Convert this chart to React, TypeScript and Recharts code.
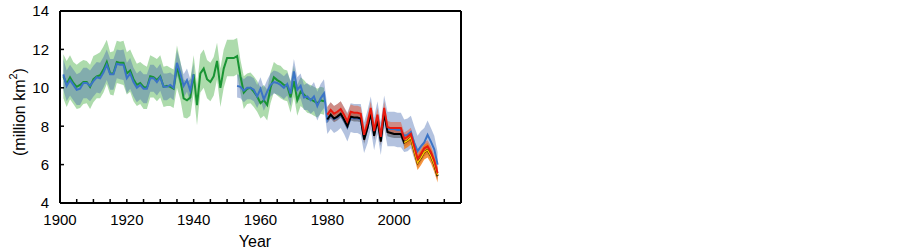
import { ComposedChart, Area, Line, XAxis, YAxis, Label } from 'recharts';

// sea-ice extent, million km2
const greenStart = 1901;
const greenVals = [
  10.6, 10.2, 10.55, 10.25, 10.05, 10.15, 10.3, 10.3, 10.05, 10.45,
  10.6, 10.65, 10.95, 11.35, 10.75, 10.75, 11.35, 11.3, 11.3, 10.75,
  10.9, 10.45, 10.15, 10.25, 10.05, 10.0, 10.6, 10.55, 10.4, 10.6,
  10.05, 10.1, 10.05, 9.95, 11.1, 10.4, 9.45, 9.35, 9.5, 10.7,
  9.1, 10.75, 11.0, 10.45, 10.3, 10.6, 11.4, 10.0, 11.0, 11.55,
  11.55, 11.55, 11.65, 10.6, 9.75, 9.95, 10.0, 9.8, 9.55, 9.2,
  9.35, 9.1, 10.0, 10.55, 10.4, 10.3, 10.15, 10.1, 9.5, 10.35,
  9.35, 9.8, 9.65, 9.45, 9.4, 9.3, 9.2, 9.35, 9.3,
];
const greenErr = [
  1.15, 1.2, 1.15, 1.1, 1.15, 1.2, 1.15, 1.1, 1.15, 1.2,
  1.15, 1.2, 1.2, 1.15, 1.1, 1.15, 1.1, 1.1, 1.15, 1.1,
  1.1, 1.15, 1.1, 1.1, 1.15, 1.1, 1.1, 1.05, 1.1, 1.1,
  1.05, 1.05, 1.0, 1.0, 1.1, 1.0, 1.0, 0.95, 0.95, 1.0,
  1.05, 1.0, 1.0, 1.0, 1.0, 1.0, 0.95, 1.0, 1.0, 0.95,
  0.95, 0.95, 0.95, 0.85, 0.85, 0.8, 0.8, 0.8, 0.8, 0.8,
  0.8, 0.8, 0.8, 0.8, 0.8, 0.85, 0.8, 0.8, 0.8, 0.8,
  0.8, 0.75, 0.75, 0.75, 0.75, 0.75, 0.75, 0.7, 0.7,
];

const blueEarlyStart = 1901;
const blueEarlyVals = [
  10.7, 10.1, 10.4, 10.15, 9.9, 9.95, 10.25, 10.25, 10.1, 10.35,
  10.55, 10.5, 10.8, 11.2, 10.7, 10.7, 11.25, 11.2, 11.2, 10.5,
  10.75, 10.3, 10.0, 10.15, 9.95, 9.95, 10.5, 10.5, 10.3, 10.55,
  10.05, 10.05, 10.15, 10.0, 11.3, 10.75, 10.1, 10.4, 9.85, 10.7,
];
const blueEarlyErr = [
  0.8, 0.8, 0.8, 0.8, 0.8, 0.85, 0.8, 0.8, 0.8, 0.8,
  0.8, 0.8, 0.8, 0.8, 0.8, 0.8, 0.75, 0.75, 0.8, 0.8,
  0.8, 0.75, 0.75, 0.75, 0.75, 0.75, 0.7, 0.7, 0.7, 0.7,
  0.7, 0.7, 0.65, 0.65, 0.65, 0.6, 0.6, 0.6, 0.6, 0.6,
];
const blueLateStart = 1953;
const blueLateVals = [
  10.1, 10.05, 9.85, 10.0, 10.0, 9.9, 9.55, 9.95, 9.4, 9.8,
  10.15, 10.3, 10.25, 10.15, 10.0, 10.2, 9.7, 10.85, 9.9, 10.1,
  9.5, 9.55, 9.35, 9.55, 9.05, 9.45, 9.7,
  8.3, 8.55, 8.35, 8.45, 8.6, 8.3, 7.95, 8.45, 8.4, 8.4,
  8.35, 7.4, 7.95, 8.7, 7.6, 8.45, 7.35, 8.75, 7.85, 7.85,
  7.85, 7.8, 7.8, 7.5, 7.55, 7.7, 7.15, 6.7, 6.95, 7.15,
  7.55, 7.2, 6.8, 6.0,
];
const blueLateErr = [
  0.6, 0.6, 0.6, 0.6, 0.6, 0.6, 0.6, 0.6, 0.6, 0.6,
  0.6, 0.6, 0.6, 0.6, 0.6, 0.6, 0.65, 0.65, 0.65, 0.65,
  0.65, 0.7, 0.7, 0.75, 0.75, 0.75, 0.75,
  0.7, 0.7, 0.7, 0.7, 0.7, 0.7, 0.75, 0.75, 0.75, 0.75,
  0.8, 0.8, 0.85, 0.85, 0.85, 0.85, 0.85, 0.85, 0.9, 0.9,
  0.9, 0.9, 0.9, 0.85, 0.85, 0.85, 0.85, 0.8, 0.8, 0.75,
  0.75, 0.7, 0.7, 0.65,
];

const satStart = 1980;
const blackVals = [
  8.35, 8.6, 8.4, 8.5, 8.65, 8.35, 8.0, 8.5, 8.45, 8.45,
  8.4, 7.3, 7.9, 8.7, 7.5, 8.35, 7.2, 8.7, 7.7, 7.65,
  7.6, 7.6, 7.6, 7.15, 7.25, 7.4, 6.75, 6.1, 6.35, 6.65,
  6.75, 6.45, 6.0, 5.4,
];
const blackErr = [
  0.2, 0.2, 0.2, 0.2, 0.2, 0.2, 0.2, 0.2, 0.2, 0.2,
  0.2, 0.22, 0.22, 0.22, 0.22, 0.22, 0.22, 0.22, 0.22, 0.22,
  0.22, 0.22, 0.22, 0.22, 0.22, 0.22, 0.22, 0.22, 0.22, 0.22,
  0.22, 0.22, 0.22, 0.22,
];
const redVals = [
  8.6, 8.85, 8.65, 8.75, 8.9, 8.6, 8.25, 8.75, 8.7, 8.7,
  8.65, 7.55, 8.15, 8.95, 7.75, 8.6, 7.45, 8.95, 7.95, 7.9,
  7.9, 7.9, 7.9, 7.35, 7.45, 7.6, 6.95, 6.3, 6.55, 6.85,
  6.95, 6.65, 6.2, 5.55,
];
const redErr = [
  0.4, 0.4, 0.4, 0.4, 0.4, 0.38, 0.38, 0.38, 0.36, 0.36,
  0.35, 0.35, 0.35, 0.35, 0.35, 0.35, 0.35, 0.35, 0.32, 0.32,
  0.32, 0.32, 0.32, 0.32, 0.32, 0.32, 0.32, 0.32, 0.32, 0.32,
  0.32, 0.32, 0.32, 0.32,
];
const orangeStart = 2003;
const orangeVals = [7.15, 7.25, 7.4, 6.75, 6.1, 6.35, 6.65, 6.75, 6.45, 6.0, 5.45];
const orangeErr = [0.35, 0.35, 0.35, 0.35, 0.38, 0.38, 0.38, 0.38, 0.38, 0.38, 0.38];

const xTicks = [
  1900, 1905, 1910, 1915, 1920, 1925, 1930, 1935, 1940, 1945, 1950, 1955, 1960,
  1965, 1970, 1975, 1980, 1985, 1990, 1995, 2000, 2005, 2010, 2015, 2020,
];
const xLabelled = [1900, 1920, 1940, 1960, 1980, 2000];
const yTicks = [4, 6, 8, 10, 12, 14];

const firstYear = 1901;
const lastYear = 2013;

const pick = (vals: number[], start: number, yr: number) => {
  const i = yr - start;
  return i >= 0 && i < vals.length ? vals[i] : null;
};
const band = (vals: number[], errs: number[], start: number, yr: number) => {
  const v = pick(vals, start, yr);
  const e = pick(errs, start, yr);
  return v == null || e == null ? null : [v - e, v + e];
};

const rows: any[] = [];
for (let yr = firstYear; yr <= lastYear; yr++) {
  const blueEarly = pick(blueEarlyVals, blueEarlyStart, yr);
  rows.push({
    year: yr,
    green: pick(greenVals, greenStart, yr),
    greenBand: band(greenVals, greenErr, greenStart, yr),
    blue: blueEarly ?? pick(blueLateVals, blueLateStart, yr),
    blueBand:
      band(blueEarlyVals, blueEarlyErr, blueEarlyStart, yr) ??
      band(blueLateVals, blueLateErr, blueLateStart, yr),
    black: pick(blackVals, satStart, yr),
    blackBand: band(blackVals, blackErr, satStart, yr),
    red: pick(redVals, satStart, yr),
    redBand: band(redVals, redErr, satStart, yr),
    orange: pick(orangeVals, orangeStart, yr),
    orangeBand: band(orangeVals, orangeErr, orangeStart, yr),
  });
}

const FONT = '"Liberation Sans", Arial, sans-serif';
const axisLine = { stroke: '#000', strokeWidth: 2 };
const tickLine = { stroke: '#000', strokeWidth: 1.5 };
const tickFont = { fontSize: 15, fill: '#000', fontFamily: FONT };

const YTitle = () => (
  <text
    x={19}
    y={112}
    transform="rotate(-90 19 112)"
    textAnchor="middle"
    dominantBaseline="central"
    fontSize={16}
    fontFamily={FONT}
    fill="#000"
  >
    (million km<tspan dy={-6} fontSize={11}>2</tspan>
    <tspan dy={6}>)</tspan>
  </text>
);

const XTitle = () => (
  <text x={255} y={247} textAnchor="middle" fontSize={16} fontFamily={FONT} fill="#000">
    Year
  </text>
);

export default function App() {
  return (
    <div style={{ position: 'absolute', left: 0, top: 0, width: 903, height: 252, background: '#fff' }}>
      <ComposedChart
        width={903}
        height={252}
        data={rows}
        margin={{ top: 10, right: 441, bottom: 48, left: 59 }}
      >
        <XAxis
          type="number"
          dataKey="year"
          domain={[1900, 2020]}
          ticks={xTicks}
          interval={0}
          height={1}
          axisLine={axisLine}
          tickLine={tickLine}
          tickSize={-4}
          tickMargin={15}
          tick={tickFont}
          tickFormatter={(v: number) => (xLabelled.includes(v) ? String(v) : '')}
        >
          <Label content={XTitle} />
        </XAxis>
        <XAxis
          xAxisId="top"
          orientation="top"
          type="number"
          dataKey="year"
          domain={[1900, 2020]}
          ticks={xTicks}
          interval={0}
          height={1}
          axisLine={axisLine}
          tickLine={tickLine}
          tickSize={-4}
          tick={false}
        />
        <YAxis
          type="number"
          domain={[4, 14]}
          ticks={yTicks}
          interval={0}
          width={1}
          axisLine={axisLine}
          tickLine={tickLine}
          tickSize={-4}
          tickMargin={15}
          tick={tickFont}
        >
          <Label content={YTitle} />
        </YAxis>
        <YAxis
          yAxisId="right"
          orientation="right"
          type="number"
          domain={[4, 14]}
          ticks={yTicks}
          interval={0}
          width={1}
          axisLine={axisLine}
          tickLine={tickLine}
          tickSize={-4}
          tick={false}
        />

        {/* uncertainty bands */}
        <Area type="linear" dataKey="greenBand" stroke="none" fill="#5cb85a" fillOpacity={0.5} isAnimationActive={false} activeDot={false} />
        <Area type="linear" dataKey="blueBand" stroke="none" fill="#4267b0" fillOpacity={0.4} isAnimationActive={false} activeDot={false} />
        <Area type="linear" dataKey="blackBand" stroke="none" fill="#3a3a3a" fillOpacity={0.45} isAnimationActive={false} activeDot={false} />
        <Area type="linear" dataKey="redBand" stroke="none" fill="#e4613c" fillOpacity={0.55} isAnimationActive={false} activeDot={false} />
        <Area type="linear" dataKey="orangeBand" stroke="none" fill="#f47a10" fillOpacity={0.8} isAnimationActive={false} activeDot={false} />

        {/* central estimates */}
        <Line type="linear" dataKey="green" stroke="#199433" strokeWidth={2} dot={false} activeDot={false} isAnimationActive={false} />
        <Line type="linear" dataKey="blue" stroke="#3b74c6" strokeWidth={2} dot={false} activeDot={false} isAnimationActive={false} />
        <Line type="linear" dataKey="black" stroke="#000" strokeWidth={2} dot={false} activeDot={false} isAnimationActive={false} />
        <Line type="linear" dataKey="orange" stroke="#ffc400" strokeWidth={1.5} dot={false} activeDot={false} isAnimationActive={false} />
        <Line type="linear" dataKey="red" stroke="#e8190f" strokeWidth={2} dot={false} activeDot={false} isAnimationActive={false} />
      </ComposedChart>
    </div>
  );
}
